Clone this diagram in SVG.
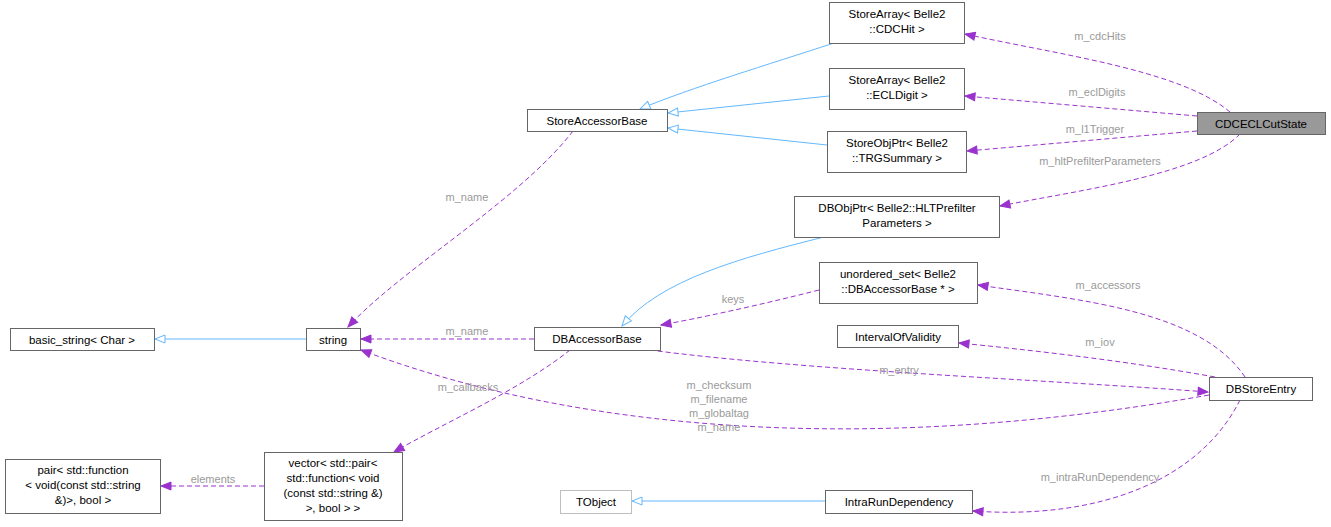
<svg xmlns="http://www.w3.org/2000/svg" width="1331" height="527" viewBox="0 0 1331 527">
<style>
.n rect{fill:#fff;stroke:#666;stroke-width:1}
text{font-family:"Liberation Sans",Arial,sans-serif;font-size:11.5px;fill:#000}
.lb{fill:#9a9a9a;font-size:11px}
.inh{fill:none;stroke:#63b8ff;stroke-width:1}
.use{fill:none;stroke:#9a32cd;stroke-width:1;stroke-dasharray:5,3}
</style>
<defs>
<marker id="ai" markerWidth="12" markerHeight="10" refX="11" refY="5" orient="auto" markerUnits="userSpaceOnUse"><path d="M1,1 L11,5 L1,9 Z" fill="#fff" stroke="#63b8ff"/></marker>
<marker id="au" markerWidth="12" markerHeight="10" refX="11" refY="5" orient="auto" markerUnits="userSpaceOnUse"><path d="M1,1 L11,5 L1,9 Z" fill="#9a32cd" stroke="#9a32cd"/></marker>
</defs>
<rect width="1331" height="527" fill="#fff"/>
<g id="connectors" text-anchor="middle">
<path class="inh" d="M834,43 C770,64 690,88 640,109" marker-end="url(#ai)"/>
<path class="inh" d="M829,96 L668,113" marker-end="url(#ai)"/>
<path class="inh" d="M827,145 L668,128" marker-end="url(#ai)"/>
<path class="inh" d="M824,237 C740,258 660,280 622,326" marker-end="url(#ai)"/>
<path class="inh" d="M306,339 L155,339" marker-end="url(#ai)"/>
<path class="inh" d="M825,501 L632,501" marker-end="url(#ai)"/>
<path class="use" d="M1230,112 C1180,70 1060,55 965,34" marker-end="url(#au)"/>
<text class="lb" x="1100" y="40">m_cdcHits</text>
<path class="use" d="M1197,116 L965,96" marker-end="url(#au)"/>
<text class="lb" x="1097" y="96">m_eclDigits</text>
<path class="use" d="M1197,131 L967,151" marker-end="url(#au)"/>
<text class="lb" x="1095" y="133">m_l1Trigger</text>
<path class="use" d="M1240,134 C1200,175 1080,190 1000,206" marker-end="url(#au)"/>
<text class="lb" x="1100" y="165">m_hltPrefilterParameters</text>
<path class="use" d="M573,131 C520,200 400,270 348,327" marker-end="url(#au)"/>
<text class="lb" x="467" y="201">m_name</text>
<path class="use" d="M534,339 L361,339" marker-end="url(#au)"/>
<text class="lb" x="467" y="335">m_name</text>
<path class="use" d="M819,290 C760,305 700,318 661,325" marker-end="url(#au)"/>
<text class="lb" x="733" y="303">keys</text>
<path class="use" d="M1215,377 C1120,360 1030,350 959,343" marker-end="url(#au)"/>
<text class="lb" x="1100" y="346">m_iov</text>
<path class="use" d="M650,350 C800,370 1050,380 1208,392" marker-end="url(#au)"/>
<text class="lb" x="899" y="374">m_entry</text>
<path class="use" d="M1245,377 C1200,310 1080,300 978,285" marker-end="url(#au)"/>
<text class="lb" x="1108" y="289">m_accessors</text>
<path class="use" d="M1209,395 C900,450 600,440 361,350" marker-end="url(#au)"/>
<text class="lb" x="719" y="389">m_checksum</text>
<text class="lb" x="719" y="403">m_filename</text>
<text class="lb" x="719" y="417">m_globaltag</text>
<text class="lb" x="719" y="431">m_name</text>
<path class="use" d="M570,350 C520,390 440,425 394,452" marker-end="url(#au)"/>
<text class="lb" x="468" y="391">m_callbacks</text>
<path class="use" d="M264,486 L161,486" marker-end="url(#au)"/>
<text class="lb" x="213" y="483">elements</text>
<path class="use" d="M1240,400 C1200,480 1100,520 973,511" marker-end="url(#au)"/>
<text class="lb" x="1100" y="481">m_intraRunDependency</text>
</g>
<g text-anchor="middle">
<g id="cdchit" class="n"><rect x="829.5" y="2.5" width="135" height="41"/><text x="897" y="18">StoreArray&lt; Belle2</text><text x="897" y="33">::CDCHit &gt;</text></g>
<g id="ecldigit" class="n"><rect x="829.5" y="68.5" width="135" height="41"/><text x="897" y="84">StoreArray&lt; Belle2</text><text x="897" y="99">::ECLDigit &gt;</text></g>
<g id="trgsummary" class="n"><rect x="827.5" y="131.5" width="139" height="41"/><text x="897" y="147">StoreObjPtr&lt; Belle2</text><text x="897" y="162">::TRGSummary &gt;</text></g>
<g id="storeaccessorbase" class="n"><rect x="527.5" y="109.5" width="140" height="22"/><text x="597" y="125">StoreAccessorBase</text></g>
<g id="cdceclcutstate" class="n"><rect x="1197.5" y="112.5" width="128" height="22" style="fill:#999"/><text x="1261" y="128">CDCECLCutState</text></g>
<g id="dbobjptr" class="n"><rect x="794.5" y="196.5" width="205" height="41"/><text x="897" y="212">DBObjPtr&lt; Belle2::HLTPrefilter</text><text x="897" y="227">Parameters &gt;</text></g>
<g id="unorderedset" class="n"><rect x="819.5" y="262.5" width="158" height="41"/><text x="898" y="278">unordered_set&lt; Belle2</text><text x="898" y="293">::DBAccessorBase * &gt;</text></g>
<g id="iov" class="n"><rect x="837.5" y="325.5" width="121" height="22"/><text x="898" y="341">IntervalOfValidity</text></g>
<g id="dbaccessorbase" class="n"><rect x="534.5" y="327.5" width="126" height="23"/><text x="597" y="343">DBAccessorBase</text></g>
<g id="string" class="n"><rect x="306.5" y="328.5" width="54" height="22"/><text x="333" y="344">string</text></g>
<g id="basicstring" class="n"><rect x="10.5" y="328.5" width="144" height="22"/><text x="82" y="344">basic_string&lt; Char &gt;</text></g>
<g id="dbstoreentry" class="n"><rect x="1209.5" y="377.5" width="103" height="23"/><text x="1261" y="393">DBStoreEntry</text></g>
<g id="vector" class="n"><rect x="264.5" y="452.5" width="138" height="68"/><text x="333" y="467">vector&lt; std::pair&lt;</text><text x="333" y="482">std::function&lt; void</text><text x="333" y="497">(const std::string &amp;)</text><text x="333" y="512">&gt;, bool &gt; &gt;</text></g>
<g id="pair" class="n"><rect x="5.5" y="459.5" width="155" height="54"/><text x="83" y="474">pair&lt; std::function</text><text x="83" y="489">&lt; void(const std::string</text><text x="83" y="504">&amp;)&gt;, bool &gt;</text></g>
<g id="tobject" class="n"><rect x="560.5" y="490.5" width="71" height="23" style="stroke:#bfbfbf"/><text x="596" y="506">TObject</text></g>
<g id="intrarundependency" class="n"><rect x="825.5" y="490.5" width="147" height="23"/><text x="899" y="506">IntraRunDependency</text></g>
</g>
</svg>
